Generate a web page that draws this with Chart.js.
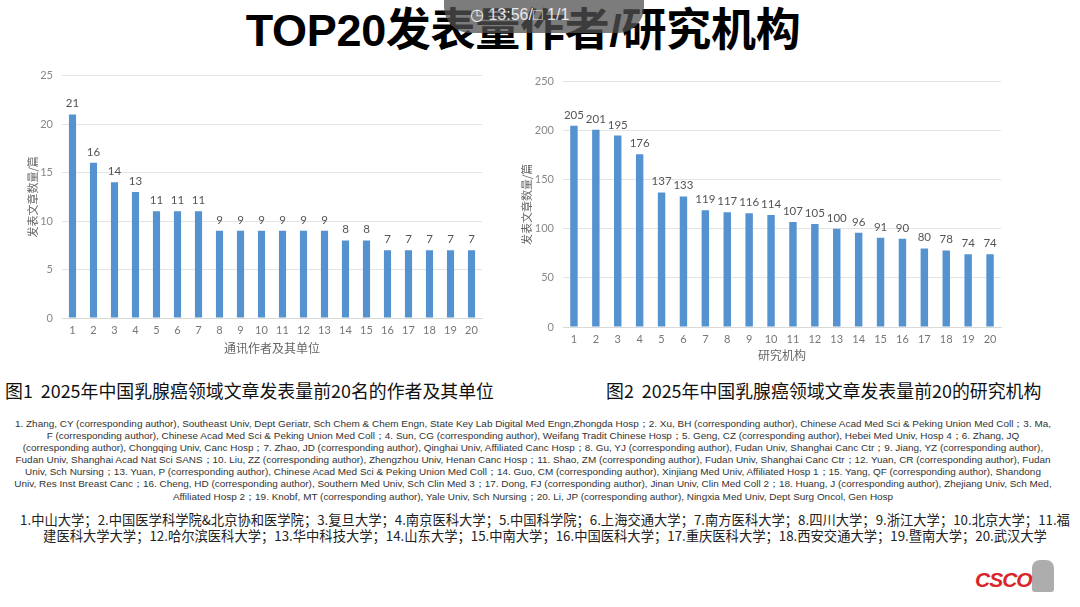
<!DOCTYPE html>
<html>
<head>
<meta charset="utf-8">
<script src="https://cdn.jsdelivr.net/npm/chart.js@4"></script>
<style>
  body { margin:0; width:1080px; height:607px; background:#fff; position:relative; overflow:hidden;
         font-family:"Noto Sans CJK SC", "Liberation Sans", sans-serif; }
  .abs { position:absolute; }
  #title { left:0; width:1046px; top:-6px; text-align:center; font-size:45px; font-weight:bold; color:#000;
           font-family:"Liberation Sans","Noto Sans CJK SC",sans-serif; letter-spacing:-0.3px; }
  #pill { left:444px; top:-10px; width:200px; height:43px; background:rgba(80,80,80,0.75); border-radius:0 0 26px 26px; }
  #pilltxt { left:470px; top:5px; color:#fff; font-size:16px; font-family:"Liberation Sans",sans-serif; opacity:0.85; }
  .cap { top:377px; font-size:17.9px; color:#111; white-space:nowrap; }
  #en { left:0; width:1066px; top:418px; text-align:center; font-size:9.95px; line-height:12.1px; color:#333;
        font-family:"Liberation Sans",sans-serif; white-space:nowrap; }
  #zh { left:0; width:1090px; top:512px; text-align:center; font-size:13.3px; line-height:16px; color:#222; white-space:nowrap; }
  #logo { left:975px; top:568px; color:#d8262b; font-weight:bold; font-style:italic; font-size:21px;
          font-family:"Liberation Sans",sans-serif; letter-spacing:-1px; }
  #logofig { left:1032px; top:560px; width:22px; height:32px; background:#777; border-radius:8px 8px 3px 3px; opacity:0.6; }
</style>
</head>
<body>
<div id="title" class="abs">TOP20发表量作者/研究机构</div>
<div id="pill" class="abs"></div>
<div id="pilltxt" class="abs">&#9719; 13:56/&#9633; 1/1</div>

<div class="abs" style="left:20px;top:60px;width:470px;height:300px;"><canvas id="chart1"></canvas></div>
<div class="abs" style="left:514px;top:66px;width:495px;height:301px;"><canvas id="chart2"></canvas></div>

<div class="abs cap" style="left:5px;">图1&nbsp;&nbsp;2025年中国乳腺癌领域文章发表量前20名的作者及其单位</div>
<div class="abs cap" style="left:606px;">图2&nbsp;&nbsp;2025年中国乳腺癌领域文章发表量前20的研究机构</div>

<div id="en" class="abs">
1. Zhang, CY (corresponding author), Southeast Univ, Dept Geriatr, Sch Chem &amp; Chem Engn, State Key Lab Digital Med Engn,Zhongda Hosp；2. Xu, BH (corresponding author), Chinese Acad Med Sci &amp; Peking Union Med Coll；3. Ma,<br>
F (corresponding author), Chinese Acad Med Sci &amp; Peking Union Med Coll；4. Sun, CG (corresponding author), Weifang Tradit Chinese Hosp；5. Geng, CZ (corresponding author), Hebei Med Univ, Hosp 4；6. Zhang, JQ<br>
(corresponding author), Chongqing Univ, Canc Hosp；7. Zhao, JD (corresponding author), Qinghai Univ, Affiliated Canc Hosp；8. Gu, YJ (corresponding author), Fudan Univ, Shanghai Canc Ctr；9. Jiang, YZ (corresponding author),<br>
Fudan Univ, Shanghai Acad Nat Sci SANS；10. Liu, ZZ (corresponding author), Zhengzhou Univ, Henan Canc Hosp；11. Shao, ZM (corresponding author), Fudan Univ, Shanghai Canc Ctr；12. Yuan, CR (corresponding author), Fudan<br>
Univ, Sch Nursing；13. Yuan, P (corresponding author), Chinese Acad Med Sci &amp; Peking Union Med Coll；14. Guo, CM (corresponding author), Xinjiang Med Univ, Affiliated Hosp 1；15. Yang, QF (corresponding author), Shandong<br>
Univ, Res Inst Breast Canc；16. Cheng, HD (corresponding author), Southern Med Univ, Sch Clin Med 3；17. Dong, FJ (corresponding author), Jinan Univ, Clin Med Coll 2；18. Huang, J (corresponding author), Zhejiang Univ, Sch Med,<br>
Affiliated Hosp 2；19. Knobf, MT (corresponding author), Yale Univ, Sch Nursing；20. Li, JP (corresponding author), Ningxia Med Univ, Dept Surg Oncol, Gen Hosp
</div>

<div id="zh" class="abs">
1.中山大学；2.中国医学科学院&amp;北京协和医学院；3.复旦大学；4.南京医科大学；5.中国科学院；6.上海交通大学；7.南方医科大学；8.四川大学；9.浙江大学；10.北京大学；11.福<br>
建医科大学大学；12.哈尔滨医科大学；13.华中科技大学；14.山东大学；15.中南大学；16.中国医科大学；17.重庆医科大学；18.西安交通大学；19.暨南大学；20.武汉大学
</div>

<div id="logofig" class="abs"></div>
<div id="logo" class="abs">CSCO</div>

<script>
// ranks 1..20
var ranks = ['1','2','3','4','5','6','7','8','9','10','11','12','13','14','15','16','17','18','19','20'];
// papers per corresponding author
var authorCounts = [21,16,14,13,11,11,11,9,9,9,9,9,9,8,8,7,7,7,7,7];
// papers per institution
var instCounts = [205,201,195,176,137,133,119,117,116,114,107,105,100,96,91,90,80,78,74,74];

var barColor = '#5593d0';
var tickFont = { family: 'Lato, "DejaVu Sans", sans-serif', size: 11 };

// draw the value above each bar
var valueLabels = {
  id: 'valueLabels',
  afterDatasetsDraw: function(chart) {
    var ctx = chart.ctx;
    var meta = chart.getDatasetMeta(0);
    ctx.save();
    ctx.font = '11.5px Lato, "DejaVu Sans", sans-serif';
    ctx.fillStyle = '#555';
    ctx.textAlign = 'center';
    ctx.textBaseline = 'bottom';
    meta.data.forEach(function(bar, i) {
      ctx.fillText(chart.data.datasets[0].data[i], bar.x, bar.y - 5);
    });
    ctx.restore();
  }
};

function makeChart(id, values, max, step, xTitle, yWidth, xHeight) {
  var c = document.getElementById(id);
  return new Chart(c.getContext('2d'), {
    type: 'bar',
    data: {
      labels: ranks,
      datasets: [{ data: values, backgroundColor: barColor, barPercentage: 0.68, categoryPercentage: 0.5 }]
    },
    options: {
      responsive: true,
      maintainAspectRatio: false,
      animation: false,
      layout: { padding: { top: 5, right: 8, left: 0, bottom: 0 } },
      plugins: { legend: { display: false }, tooltip: { enabled: false } },
      scales: {
        x: {
          grid: { display: false, drawTicks: false },
          border: { color: '#d9d9d9', width: 1 },
          ticks: { color: '#777', font: tickFont, padding: 6, maxRotation: 0, autoSkip: false },
          title: { display: true, text: xTitle, color: '#666', font: { family: '"Noto Sans CJK SC"', size: 12 }, padding: { top: 2 } },
          afterFit: function(s) { s.height = xHeight; }
        },
        y: {
          min: 0, max: max,
          grid: { color: '#e4e4e4', drawTicks: false },
          border: { display: false },
          ticks: { stepSize: step, color: '#888', font: tickFont, padding: 9 },
          title: { display: true, text: '发表文章数量/篇', color: '#666', font: { family: '"Noto Sans CJK SC"', size: 11 }, padding: { top: 6, bottom: 0 } },
          afterFit: function(s) { s.width = yWidth; }
        }
      }
    },
    plugins: [valueLabels]
  });
}

makeChart('chart1', authorCounts, 25, 5, '通讯作者及其单位', 42, 42);
makeChart('chart2', instCounts, 250, 50, '研究机构', 49, 40);
</script>
</body>
</html>
